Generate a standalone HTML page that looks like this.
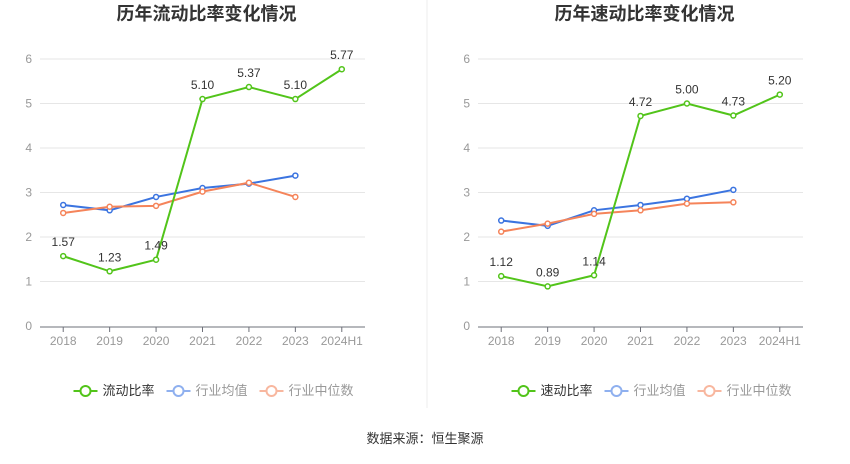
<!DOCTYPE html>
<html><head><meta charset="utf-8"><style>
body{margin:0;background:#fff;font-family:"Liberation Sans","Noto Sans CJK SC",sans-serif;}
svg text{font-family:"Liberation Sans","Noto Sans CJK SC",sans-serif;}
</style></head><body>
<svg id="s" width="850" height="459">
<line x1="427" y1="0" x2="427" y2="408" stroke="#eee"/>
<text x="425" y="443" text-anchor="middle" font-size="13" fill="#333">数据来源：恒生聚源</text>
</svg>
<script>
const categories=["2018","2019","2020","2021","2022","2023","2024H1"];
const yTicks=[0,1,2,3,4,5,6];
const leftMain=[1.57,1.23,1.49,5.10,5.37,5.10,5.77];
const leftAvg=[2.72,2.60,2.90,3.10,3.20,3.38];
const leftMed=[2.54,2.68,2.70,3.02,3.22,2.90];
const rightMain=[1.12,0.89,1.14,4.72,5.00,4.73,5.20];
const rightAvg=[2.37,2.25,2.60,2.72,2.86,3.06];
const rightMed=[2.12,2.30,2.52,2.60,2.75,2.78];
const svg=document.getElementById('s');
const NS='http://www.w3.org/2000/svg';
function mk(t,a,p){const e=document.createElementNS(NS,t);for(const k in a)e.setAttribute(k,a[k]);(p||svg).appendChild(e);return e;}
function chart(x0,x1,title,mainName,main,avg,med,prefix){
  const g=mk('g',{});
  
  
  const y0=326,yTop=59;
  const ys=v=>y0-(v/6)*(y0-yTop);
  const band=(x1-x0)/categories.length;
  const xs=i=>x0+band*(i+0.5);
  const t=mk('text',{x:(x0+x1)/2+4,y:20,'text-anchor':'middle','font-size':18,'font-weight':'bold',fill:'#333'},g);t.textContent=title;
  
  
  yTicks.forEach(v=>{
    if(v>0){const l=mk('line',{x1:x0,x2:x1,y1:ys(v),y2:ys(v),stroke:'#e6e6e6'},g);
    
    }
    const tx=mk('text',{x:x0-8,y:ys(v)+4,'text-anchor':'end','font-size':12,fill:'#999'},g);tx.textContent=v;
    
    
  });
  const ax=mk('line',{x1:x0,x2:x1,y1:y0+1,y2:y0+1,stroke:'#6e7079'},g);
  
  
  categories.forEach((c,i)=>{
    mk('line',{x1:xs(i),x2:xs(i),y1:y0+1,y2:y0+6,stroke:'#6e7079'},g);
    const tx=mk('text',{x:xs(i),y:y0+19,'text-anchor':'middle','font-size':12,fill:'#999'},g);tx.textContent=c;
    
    
  });
  function series(data,color,name,labels){
    const pts=data.map((v,i)=>xs(i)+','+ys(v)).join(' ');
    const pl=mk('polyline',{points:pts,fill:'none',stroke:color,'stroke-width':2},g);
    
    
    data.forEach((v,i)=>{
      const c=mk('circle',{cx:xs(i),cy:ys(v),r:2.5,fill:'#fff',stroke:color,'stroke-width':1.5},g);
      
      
      if(labels){const tx=mk('text',{x:xs(i),y:ys(v)-10,'text-anchor':'middle','font-size':12,fill:'#333'},g);tx.textContent=v.toFixed(2);
      
      }
    });
  }
  series(avg,'#3b74e0','avg',false);
  series(med,'#f5845a','median',false);
  series(main,'#52c41a','main',true);
  const leg=[[mainName,'#52c41a','#333'],['行业均值','#8fb0ef','#999'],['行业中位数','#f8b79f','#999']];
  let lx=(x0+x1)/2-129;
  leg.forEach((L,k)=>{
    const lg=mk('g',{},g);
    
    
    mk('line',{x1:lx,x2:lx+24,y1:391,y2:391,stroke:L[1],'stroke-width':2},lg);
    mk('circle',{cx:lx+12,cy:391,r:5,fill:'#fff',stroke:L[1],'stroke-width':2},lg);
    const tx=mk('text',{x:lx+29,y:395,'font-size':13,fill:L[2]},lg);tx.textContent=L[0];
    lx+=29+L[0].length*13+12;
  });
}
chart(40,365,'历年流动比率变化情况','流动比率',leftMain,leftAvg,leftMed,'current');
chart(478,803,'历年速动比率变化情况','速动比率',rightMain,rightAvg,rightMed,'quick');
</script>
</body></html>
